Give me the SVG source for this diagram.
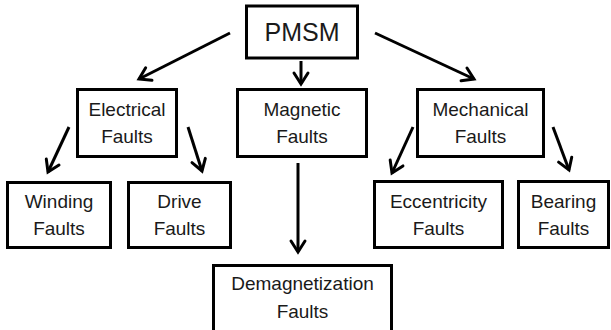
<svg xmlns="http://www.w3.org/2000/svg" width="611" height="330" viewBox="0 0 611 330">
<style>
.box{fill:#fff;stroke:#000;stroke-width:3}
.t{font-family:"Liberation Sans",Arial,sans-serif;font-size:19px;fill:#1a1a1a;text-anchor:middle}
.big{font-size:25px}
.c{stroke:#000;stroke-width:3;fill:none;marker-end:url(#ah)}
</style>
<defs>
<marker id="ah" markerUnits="userSpaceOnUse" markerWidth="30" markerHeight="30" viewBox="-15 -15 30 30" refX="0" refY="0" orient="auto">
<path d="M-11,-7 L0,0 L-11,7" fill="none" stroke="#000" stroke-width="3" stroke-linejoin="miter" stroke-linecap="round"/>
</marker>
</defs>
<rect width="611" height="330" fill="#fff"/>
<g id="connectors">
<line class="c" x1="230" y1="33" x2="139" y2="79"/>
<line class="c" x1="301" y1="61" x2="301" y2="84"/>
<line class="c" x1="375" y1="33" x2="474" y2="79"/>
<line class="c" x1="69" y1="127" x2="48" y2="172"/>
<line class="c" x1="188" y1="127" x2="202" y2="171"/>
<line class="c" x1="298" y1="163" x2="298" y2="252"/>
<line class="c" x1="413" y1="127" x2="392" y2="173"/>
<line class="c" x1="553" y1="127" x2="569" y2="170"/>
</g>
<g id="pmsm">
<rect class="box" x="246.5" y="6" width="111" height="52"/>
<text class="t big" x="302" y="41">PMSM</text>
</g>
<g id="electrical">
<rect class="box" x="77.5" y="89.5" width="99" height="67"/>
<text class="t" x="127" y="116">Electrical</text>
<text class="t" x="127" y="143">Faults</text>
</g>
<g id="magnetic">
<rect class="box" x="237.5" y="89.5" width="129" height="67"/>
<text class="t" x="302" y="116">Magnetic</text>
<text class="t" x="302" y="143">Faults</text>
</g>
<g id="mechanical">
<rect class="box" x="417.5" y="89.5" width="126" height="67"/>
<text class="t" x="480.5" y="116">Mechanical</text>
<text class="t" x="480.5" y="143">Faults</text>
</g>
<g id="winding">
<rect class="box" x="7.5" y="182.5" width="103" height="65"/>
<text class="t" x="59" y="208">Winding</text>
<text class="t" x="59" y="235">Faults</text>
</g>
<g id="drive">
<rect class="box" x="128.5" y="182.5" width="102" height="65"/>
<text class="t" x="179.5" y="208">Drive</text>
<text class="t" x="179.5" y="235">Faults</text>
</g>
<g id="eccentricity">
<rect class="box" x="374.5" y="181.5" width="128" height="66"/>
<text class="t" x="438.5" y="208">Eccentricity</text>
<text class="t" x="438.5" y="235">Faults</text>
</g>
<g id="bearing">
<rect class="box" x="518.5" y="181.5" width="90" height="66"/>
<text class="t" x="563.5" y="208">Bearing</text>
<text class="t" x="563.5" y="235">Faults</text>
</g>
<g id="demagnetization">
<rect class="box" x="213.5" y="265.5" width="178" height="70"/>
<text class="t" x="302.5" y="290">Demagnetization</text>
<text class="t" x="302.5" y="318">Faults</text>
</g>
</svg>
